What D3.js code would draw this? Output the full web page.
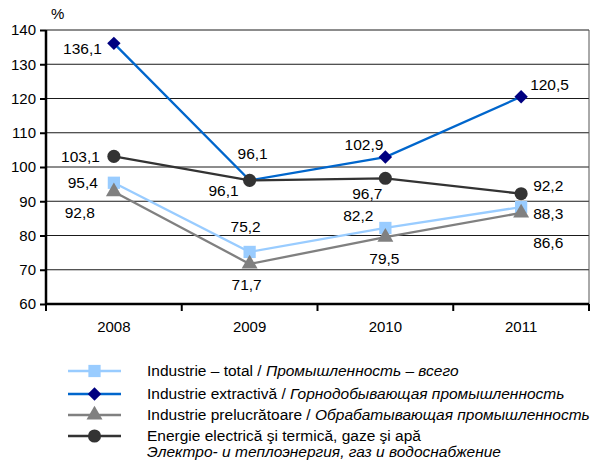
<!DOCTYPE html>
<html>
<head>
<meta charset="utf-8">
<script src="https://cdn.jsdelivr.net/npm/d3@7"></script>
<style>
  body { margin: 0; background: #fff; }
  svg { display: block; font-family: "Liberation Sans", Arial, sans-serif; }
</style>
</head>
<body>
<div id="chart"></div>
<script>
// data
const years = ["2008", "2009", "2010", "2011"];
const yTicks = [60, 70, 80, 90, 100, 110, 120, 130, 140];

const totalValues = [95.4, 75.2, 82.2, 88.3];
const extractiveValues = [136.1, 96.1, 102.9, 120.5];
const processingValues = [92.8, 71.7, 79.5, 86.6];
const energyValues = [103.1, 96.1, 96.7, 92.2];

const seriesNamesRo = [
  "Industrie – total / ",
  "Industrie extractivă / ",
  "Industrie prelucrătoare / ",
  "Energie electrică şi termică, gaze şi apă"
];
const seriesNamesRu = [
  "Промышленность – всего",
  "Горнодобывающая промышленность",
  "Обрабатывающая промышленность",
  "Электро- и теплоэнергия, газ и водоснабжение"
];

const WIDTH = 595, HEIGHT = 460;
const plotL = 46, plotR = 589, plotT = 30, plotB = 304;
const FONT = "Liberation Sans, Arial, sans-serif";

// label offsets per point (dx, dy from marker, anchor)
const labelPos = [
  [[-16, 0, "end"], [-4, -25, "middle"], [-12, -12, "end"], [12, 7, "start"]],
  [[-12, 5, "end"], [3, -27, "middle"], [-2, -12, "end"], [9, -12, "start"]],
  [[-19, 21, "end"], [-3, 21, "middle"], [-1, 21, "middle"], [12, 30, "start"]],
  [[-14, 0, "end"], [-11, 10, "end"], [-3, 15, "end"], [12, -8, "start"]]
];

const series = [
  { values: totalValues, line: "#99ccff", fill: "#99ccff", marker: "square" },
  { values: extractiveValues, line: "#0066cc", fill: "#000080", marker: "diamond" },
  { values: processingValues, line: "#808080", fill: "#808080", marker: "triangle" },
  { values: energyValues, line: "#333333", fill: "#333333", marker: "circle" }
];

const svg = d3.select("#chart").append("svg")
  .attr("width", WIDTH)
  .attr("height", HEIGHT);

const x = d3.scaleBand().domain(years).range([plotL, plotR]);
const y = d3.scaleLinear().domain([60, 140]).range([plotB, plotT]);
const cx = d => x(d) + x.bandwidth() / 2;

// grid
svg.append("g")
  .selectAll("line")
  .data(yTicks.filter(t => t > 60))
  .join("line")
  .attr("x1", plotL).attr("x2", plotR)
  .attr("y1", d => y(d)).attr("y2", d => y(d))
  .attr("stroke", "#1a1a1a")
  .attr("stroke-width", 1);

// right border
svg.append("line")
  .attr("x1", plotR).attr("x2", plotR)
  .attr("y1", plotT).attr("y2", plotB)
  .attr("stroke", "#555")
  .attr("stroke-width", 1);

// y axis
const yAxis = svg.append("g")
  .attr("transform", `translate(${plotL},0)`)
  .call(d3.axisLeft(y).tickValues(yTicks).tickSize(6).tickPadding(4));
yAxis.select(".domain").attr("stroke-width", 2.5).attr("d", `M0,${plotT}V${plotB}`);
yAxis.selectAll(".tick line").attr("stroke-width", 2);
yAxis.selectAll("text").attr("font-size", 15).attr("fill", "#000")
  .attr("font-family", FONT);

// x axis
const xAxis = svg.append("g")
  .attr("transform", `translate(0,${plotB})`)
  .call(d3.axisBottom(x).tickSize(0).tickPadding(17));
xAxis.select(".domain").attr("stroke-width", 2.5).attr("d", `M${plotL},0H${plotR}`);
xAxis.selectAll("text").attr("font-size", 15).attr("fill", "#000")
  .attr("font-family", FONT);
xAxis.selectAll(".sep")
  .data(d3.range(years.length + 1))
  .join("line")
  .attr("class", "sep")
  .attr("x1", i => plotL + i * x.bandwidth())
  .attr("x2", i => plotL + i * x.bandwidth())
  .attr("y1", 0).attr("y2", 7)
  .attr("stroke", "#000")
  .attr("stroke-width", 2);

svg.append("text")
  .attr("x", 51).attr("y", 19)
  .attr("font-size", 15)
  .text("%");

// markers
const sym = {
  square: d3.symbol().type(d3.symbolSquare).size(150),
  diamond: d3.symbol().type(d3.symbolDiamond2).size(115),
  triangle: d3.symbol().type(d3.symbolTriangle).size(110),
  circle: d3.symbol().type(d3.symbolCircle).size(135)
};

const line = d3.line().x((d, i) => cx(years[i])).y(d => y(d));

series.forEach((s, si) => {
  const g = svg.append("g");
  g.append("path")
    .attr("d", line(s.values))
    .attr("fill", "none")
    .attr("stroke", s.line)
    .attr("stroke-width", 2.3);
  g.selectAll("path.m")
    .data(s.values)
    .join("path")
    .attr("class", "m")
    .attr("transform", (d, i) => `translate(${cx(years[i])},${y(d)})`)
    .attr("d", sym[s.marker]())
    .attr("fill", s.fill);
});

// data labels
series.forEach((s, si) => {
  svg.append("g")
    .selectAll("text")
    .data(s.values)
    .join("text")
    .attr("x", (d, i) => cx(years[i]) + labelPos[si][i][0])
    .attr("y", (d, i) => y(d) + labelPos[si][i][1])
    .attr("dy", "0.35em")
    .attr("text-anchor", (d, i) => labelPos[si][i][2])
    .attr("font-size", 15.5)
    .text(d => d.toFixed(1).replace(".", ","));
});

// legend
const legendY = [371, 394, 415, 436];
const leg = svg.append("g");
const legText = svg.append("g")
  .attr("transform", "translate(147,0) scale(1.07,1)");
series.forEach((s, si) => {
  const ly = legendY[si];
  leg.append("line")
    .attr("x1", 68).attr("x2", 121)
    .attr("y1", ly).attr("y2", ly)
    .attr("stroke", s.line)
    .attr("stroke-width", 2.3);
  leg.append("path")
    .attr("transform", `translate(94.5,${ly})`)
    .attr("d", sym[s.marker]())
    .attr("fill", s.fill);
  const t = legText.append("text")
    .attr("x", 0).attr("y", ly)
    .attr("dy", "0.35em")
    .attr("font-size", 14.5);
  if (si < 3) {
    t.append("tspan").text(seriesNamesRo[si]);
    t.append("tspan").attr("font-style", "italic").text(seriesNamesRu[si]);
  } else {
    t.text(seriesNamesRo[si]);
    legText.append("text")
      .attr("x", 0).attr("y", ly + 16)
      .attr("dy", "0.35em")
      .attr("font-size", 14.5)
      .attr("font-style", "italic")
      .text(seriesNamesRu[si]);
  }
});
</script>
</body>
</html>
